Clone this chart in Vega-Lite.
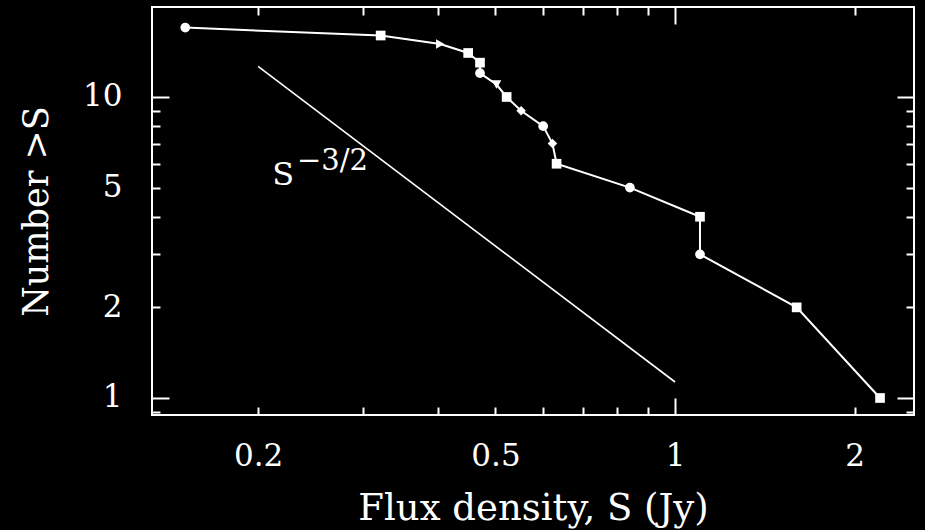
{
  "$schema": "https://vega.github.io/schema/vega-lite/v6.json",
  "width": 762,
  "height": 408,
  "autosize": {"type": "none"},
  "padding": {"left": 152, "top": 7, "right": 11, "bottom": 115},
  "background": "black",
  "config": {
    "font": "DejaVu Serif",
    "view": {"stroke": "white", "strokeWidth": 2},
    "axis": {
      "domain": false,
      "grid": false,
      "tickColor": "white",
      "tickWidth": 2,
      "labelColor": "white",
      "titleColor": "white",
      "titleFontWeight": "normal",
      "labelFontSize": 31
    }
  },
  "datasets": {
    "counts": [
      {"S": 0.151, "N": 17, "sym": "A"},
      {"S": 0.321, "N": 16, "sym": "B"},
      {"S": 0.404, "N": 15, "sym": "C"},
      {"S": 0.450, "N": 14, "sym": "B"},
      {"S": 0.471, "N": 13, "sym": "B"},
      {"S": 0.471, "N": 12, "sym": "A"},
      {"S": 0.502, "N": 11, "sym": "D"},
      {"S": 0.522, "N": 10, "sym": "B"},
      {"S": 0.552, "N": 9, "sym": "E"},
      {"S": 0.601, "N": 8, "sym": "A"},
      {"S": 0.623, "N": 7, "sym": "E"},
      {"S": 0.633, "N": 6, "sym": "B"},
      {"S": 0.840, "N": 5, "sym": "A"},
      {"S": 1.101, "N": 4, "sym": "B"},
      {"S": 1.101, "N": 3, "sym": "A"},
      {"S": 1.599, "N": 2, "sym": "B"},
      {"S": 2.206, "N": 1, "sym": "B"}
    ],
    "slope": [
      {"S": 0.2, "N": 12.63},
      {"S": 1.0, "N": 1.13}
    ],
    "label": [
      {"S": 0.2203, "N": 5.5, "part": "base", "txt": "S"},
      {"S": 0.2324, "N": 6.15, "part": "exp", "txt": "−3/2"}
    ]
  },
  "resolve": {
    "scale": {"x": "shared", "y": "shared"},
    "axis": {"x": "independent", "y": "independent"}
  },
  "layer": [
    {
      "data": {"name": "slope"},
      "mark": {"type": "line", "color": "white", "strokeWidth": 1.6},
      "encoding": {
        "x": {
          "field": "S", "type": "quantitative",
          "scale": {"type": "log", "domain": [0.1328, 2.515], "nice": false, "zero": false},
          "axis": {
            "orient": "bottom",
            "values": [0.2, 0.5, 1, 2],
            "format": "~g",
            "ticks": false,
            "labelPadding": 26,
            "labelFlush": false,
            "title": "Flux density, S (Jy)",
            "titleFontSize": 37,
            "titlePadding": 19
          }
        },
        "y": {
          "field": "N", "type": "quantitative",
          "scale": {"type": "log", "domain": [0.878, 19.9], "nice": false, "zero": false},
          "axis": {
            "orient": "left",
            "values": [1, 2, 5, 10],
            "format": "~g",
            "ticks": false,
            "labelPadding": 30,
            "labelFlush": false,
            "title": "Number >S",
            "titleFontSize": 35,
            "titlePadding": 28
          }
        }
      }
    },
    {
      "data": {"name": "counts"},
      "mark": {"type": "line", "color": "white", "strokeWidth": 2},
      "encoding": {
        "x": {
          "field": "S", "type": "quantitative",
          "axis": {
            "orient": "bottom",
            "values": [0.2, 0.3, 0.4, 0.5, 0.6, 0.7, 0.8, 0.9, 1, 2],
            "labels": false,
            "title": null,
            "tickSize": {"condition": {"test": "datum.value === 1", "value": -17}, "value": -8}
          }
        },
        "y": {
          "field": "N", "type": "quantitative",
          "axis": {
            "orient": "left",
            "values": [0.9, 1, 2, 3, 4, 5, 6, 7, 8, 9, 10],
            "labels": false,
            "title": null,
            "tickSize": {"condition": {"test": "datum.value === 1 || datum.value === 10", "value": -17}, "value": -8}
          }
        },
        "order": {"field": "N", "sort": "descending"}
      }
    },
    {
      "data": {"name": "counts"},
      "mark": {"type": "point", "filled": true, "color": "white", "opacity": 1},
      "encoding": {
        "x": {
          "field": "S", "type": "quantitative",
          "axis": {
            "orient": "top",
            "values": [0.2, 0.3, 0.4, 0.5, 0.6, 0.7, 0.8, 0.9, 1, 2],
            "labels": false,
            "title": null,
            "tickSize": {"condition": {"test": "datum.value === 1", "value": -17}, "value": -8}
          }
        },
        "y": {
          "field": "N", "type": "quantitative",
          "axis": {
            "orient": "right",
            "values": [0.9, 1, 2, 3, 4, 5, 6, 7, 8, 9, 10],
            "labels": false,
            "title": null,
            "tickSize": {"condition": {"test": "datum.value === 1 || datum.value === 10", "value": -17}, "value": -8}
          }
        },
        "shape": {
          "field": "sym", "type": "nominal", "legend": null,
          "scale": {"domain": ["A", "B", "C", "D", "E"], "range": ["circle", "square", "triangle-right", "triangle-down", "diamond"]}
        },
        "size": {
          "field": "sym", "type": "nominal", "legend": null,
          "scale": {"domain": ["A", "B", "C", "D", "E"], "range": [95, 90, 210, 210, 190]}
        }
      }
    },
    {
      "data": {"name": "label"},
      "transform": [{"filter": "datum.part === 'base'"}],
      "mark": {"type": "text", "color": "white", "fontSize": 32, "align": "center", "baseline": "middle"},
      "encoding": {
        "x": {"field": "S", "type": "quantitative", "axis": null},
        "y": {"field": "N", "type": "quantitative", "axis": null},
        "text": {"field": "txt"}
      }
    },
    {
      "data": {"name": "label"},
      "transform": [{"filter": "datum.part === 'exp'"}],
      "mark": {"type": "text", "color": "white", "fontSize": 29, "align": "left", "baseline": "middle"},
      "encoding": {
        "x": {"field": "S", "type": "quantitative", "axis": null},
        "y": {"field": "N", "type": "quantitative", "axis": null},
        "text": {"field": "txt"}
      }
    }
  ]
}
